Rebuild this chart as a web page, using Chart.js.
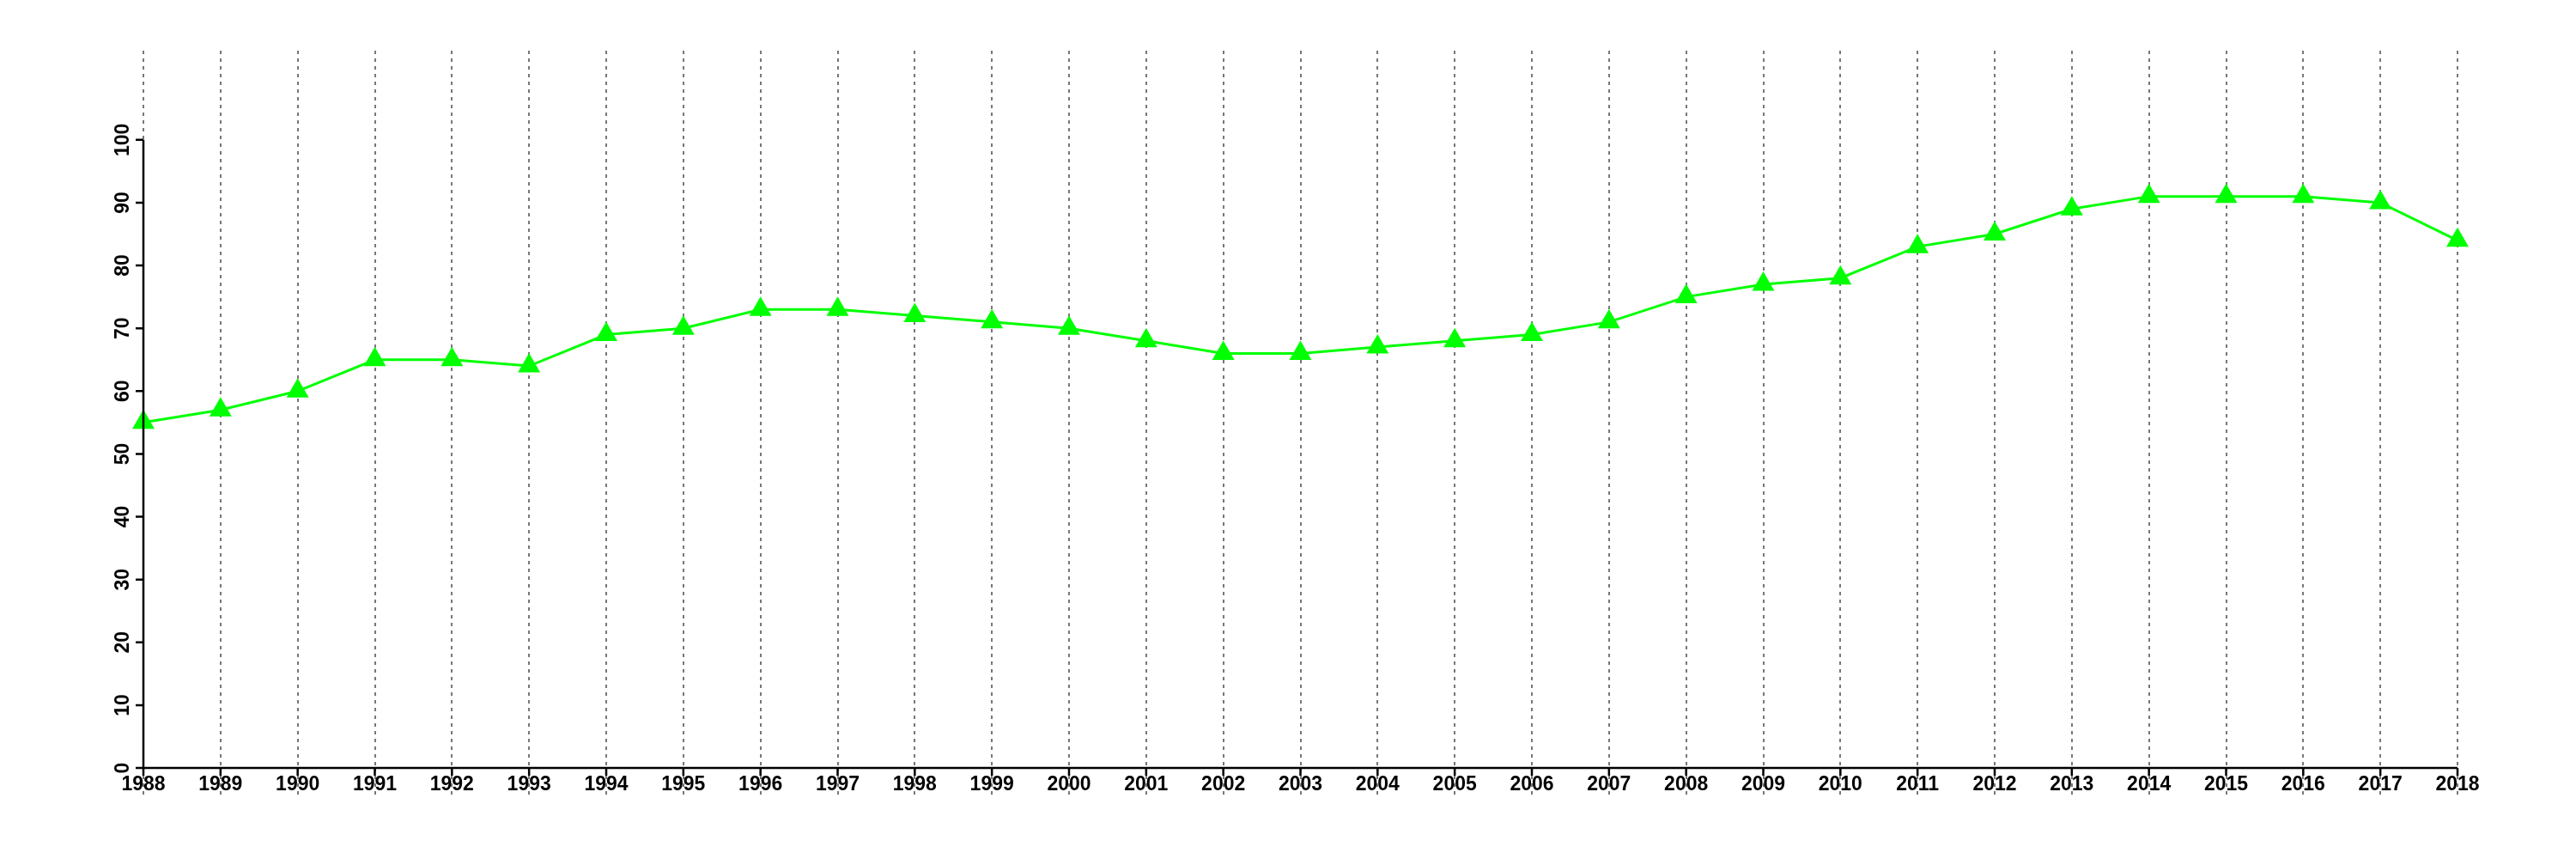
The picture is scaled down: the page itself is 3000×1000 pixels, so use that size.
<!DOCTYPE html>
<html>
<head>
<meta charset="utf-8">
<script src="https://cdn.jsdelivr.net/npm/chart.js@4/dist/chart.umd.min.js"></script>
<style>
  html, body { margin: 0; padding: 0; background: #fff; }
  #wrap { width: 3000px; height: 1000px; }
</style>
</head>
<body>
<div id="wrap"><canvas id="myChart" width="3000" height="1000"></canvas></div>
<script>
// years on the x axis
var years = ['1988', '1989', '1990', '1991', '1992', '1993', '1994', '1995', '1996', '1997',
    '1998', '1999', '2000', '2001', '2002', '2003', '2004', '2005', '2006', '2007',
    '2008', '2009', '2010', '2011', '2012', '2013', '2014', '2015', '2016', '2017', '2018'];
// values
var values = [55, 57, 60, 65, 65, 64, 69, 70, 73, 73,
    72, 71, 70, 68, 66, 66, 67, 68, 69, 71,
    75, 77, 78, 83, 85, 89, 91, 91, 91, 90, 84];
var yTicks = [0, 10, 20, 30, 40, 50, 60, 70, 80, 90, 100];

var FONT = { family: "'Liberation Sans', Arial, sans-serif", size: 23, weight: 'bold' };

// solid axis lines, short tick marks and rotated y labels, only over 0..100 / 1988..2018
var axesPlugin = {
    id: 'axes',
    afterDatasetsDraw: function(chart) {
        var ctx = chart.ctx;
        var xs = chart.scales.x, ys = chart.scales.y;
        var x0 = xs.getPixelForValue(0), x1 = xs.getPixelForValue(years.length - 1);
        var y0 = ys.getPixelForValue(yTicks[0]), y1 = ys.getPixelForValue(yTicks[yTicks.length - 1]);
        ctx.save();
        ctx.strokeStyle = '#000';
        ctx.lineWidth = 2.5;
        ctx.setLineDash([]);
        ctx.beginPath();
        ctx.moveTo(x0, y0); ctx.lineTo(x0, y1); // y axis
        ctx.moveTo(x0, y0); ctx.lineTo(x1, y0); // x axis
        yTicks.forEach(function(v) {
            var y = ys.getPixelForValue(v);
            ctx.moveTo(x0, y); ctx.lineTo(x0 - 9, y);
        });
        for (var i = 0; i < years.length; i++) {
            var x = xs.getPixelForValue(i);
            ctx.moveTo(x, y0); ctx.lineTo(x, y0 + 9);
        }
        ctx.stroke();

        // y labels read bottom to top
        ctx.fillStyle = '#000';
        ctx.font = FONT.weight + ' ' + FONT.size + 'px ' + FONT.family;
        ctx.textAlign = 'center';
        ctx.textBaseline = 'middle';
        yTicks.forEach(function(v) {
            ctx.save();
            ctx.translate(x0 - 23, ys.getPixelForValue(v));
            ctx.rotate(-Math.PI / 2);
            ctx.fillText(String(v), 0, 0);
            ctx.restore();
        });
        ctx.restore();
    }
};

var ctx = document.getElementById('myChart').getContext('2d');
var myChart = new Chart(ctx, {
    type: 'line',
    data: {
        labels: years,
        datasets: [{
            data: values,
            borderColor: '#00ff00',
            backgroundColor: '#00ff00',
            borderWidth: 3,
            tension: 0,
            fill: false,
            pointStyle: 'triangle',
            pointRadius: 15,
            pointBorderWidth: 0,
            pointBackgroundColor: '#00ff00',
            pointBorderColor: '#00ff00'
        }]
    },
    options: {
        responsive: false,
        maintainAspectRatio: false,
        animation: false,
        devicePixelRatio: 1,
        layout: { padding: { top: 59, right: 138, left: 0, bottom: 0 } },
        plugins: { legend: { display: false }, tooltip: { enabled: false } },
        scales: {
            x: {
                offset: false,
                border: { display: false, dash: [4, 5] },
                grid: {
                    display: true,
                    drawOnChartArea: true,
                    drawTicks: true,
                    color: '#777',
                    lineWidth: 2,
                    tickLength: 33,
                    tickColor: '#777',
                    tickWidth: 2,
                    tickBorderDash: [4, 5]
                },
                ticks: {
                    color: '#000',
                    font: FONT,
                    padding: -27,
                    maxRotation: 0,
                    minRotation: 0,
                    autoSkip: false
                },
                afterFit: function(scale) { scale.height = 106; }
            },
            y: {
                min: 0,
                max: 114.2,
                border: { display: false },
                grid: { display: false, drawTicks: false },
                afterBuildTicks: function(scale) {
                    scale.ticks = yTicks.map(function(v) { return { value: v }; });
                },
                ticks: { display: false },
                afterFit: function(scale) { scale.width = 167; }
            }
        }
    },
    plugins: [axesPlugin]
});
</script>
</body>
</html>
